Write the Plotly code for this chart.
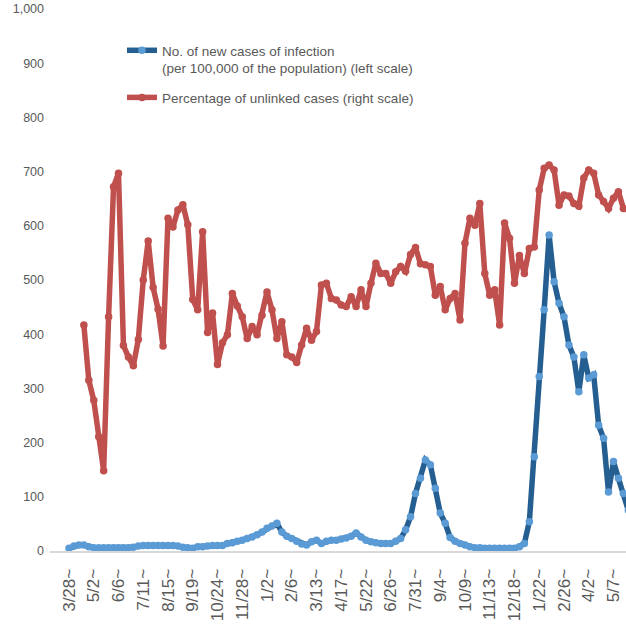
import plotly.graph_objects as go

# weekly index (0 = week of 3/28)
week_index = list(range(114))

# No. of new cases of infection (per 100,000 of the population), left scale
cases = [5, 9, 11, 11, 8, 6, 6, 6, 6, 6,
         6, 6, 6, 7, 9, 10, 10, 10, 10, 10,
         10, 10, 9, 7, 6, 5, 8, 8, 9, 10,
         10, 10, 14, 15, 18, 20, 23, 26, 30, 35,
         42, 46, 51, 35, 27, 23, 18, 13, 11, 17,
         20, 14, 18, 20, 20, 22, 24, 27, 33, 26,
         20, 17, 15, 14, 14, 14, 18, 23, 39, 63,
         106, 134, 168, 159, 116, 70, 51, 25, 18, 14,
         11, 8, 6, 6, 5, 5, 5, 5, 5, 5,
         5, 8, 14, 54, 174, 322, 445, 583, 497, 457,
         432, 380, 358, 294, 362, 319, 325, 232, 208, 109,
         165, 134, 106, 75]

# Percentage of unlinked cases (%), right scale
unlinked = [None, None, None, 41.7, 31.5, 27.8, 21.1, 14.8, 43.2, 67.2,
            69.7, 37.9, 35.8, 34.2, 39.0, 50.0, 57.2, 48.6, 44.6, 37.8,
            61.4, 59.8, 62.9, 63.9, 60.2, 46.4, 44.5, 58.9, 40.3, 43.9,
            34.4, 38.4, 39.9, 47.5, 45.2, 43.2, 39.2, 41.4, 39.9, 43.5,
            47.8, 44.5, 39.2, 42.3, 36.2, 35.8, 34.8, 38.0, 41.1, 38.9,
            40.5, 49.1, 49.4, 46.6, 46.3, 45.4, 45.1, 46.9, 45.1, 48.2,
            45.1, 49.4, 53.1, 51.2, 51.2, 49.4, 51.5, 52.5, 51.6, 54.7,
            56.0, 53.0, 52.8, 52.5, 47.2, 48.8, 44.5, 46.6, 47.5, 42.6,
            56.8, 61.4, 60.1, 64.1, 51.2, 47.2, 48.2, 41.7, 60.5, 57.7,
            49.4, 54.5, 51.2, 55.8, 56.1, 66.6, 70.6, 71.2, 70.3, 63.8,
            65.7, 65.5, 64.1, 63.6, 68.8, 70.3, 69.7, 65.7, 64.5, 63.2,
            65.1, 66.3, 63.2, 63.0]

tick_pos = list(range(0, 111, 5))
tick_text = ["3/28~", "5/2~", "6/6~", "7/11~", "8/15~", "9/19~", "10/24~",
             "11/28~", "1/2~", "2/6~", "3/13~", "4/17~", "5/22~", "6/26~",
             "7/31~", "9/4~", "10/9~", "11/13~", "12/18~", "1/22~", "2/26~",
             "4/2~", "5/7~"]

FONT = "Liberation Sans, Arial, sans-serif"
GREY = "#595959"

fig = go.Figure()
fig.add_trace(go.Scatter(
    x=week_index, y=cases, mode="lines+markers",
    name="No. of new cases of infection<br>(per 100,000 of the population) (left scale)",
    line=dict(color="#255E91", width=5.5),
    marker=dict(color="#5B9BD5", size=7.5),
    legendgroup="a"))
fig.add_trace(go.Scatter(
    x=week_index, y=unlinked, yaxis="y2", mode="lines+markers",
    name="Percentage of unlinked cases (right scale)",
    line=dict(color="#C0504D", width=5.5),
    marker=dict(color="#C0504D", size=7.5),
    legendgroup="b"))

fig.update_layout(
    width=626, height=634,
    margin=dict(l=50, r=0, t=9, b=83, pad=0),
    paper_bgcolor="white", plot_bgcolor="white",
    showlegend=True,
    legend=dict(x=0.125, y=0.952, xanchor="left", yanchor="top",
                font=dict(family=FONT, size=13.5, color=GREY),
                bgcolor="rgba(0,0,0,0)", valign="top",
                tracegroupgap=9),
    xaxis=dict(range=[-3.84, 112.53], tickmode="array", tickvals=tick_pos,
               ticktext=tick_text, tickangle=-90, showgrid=False,
               zeroline=False, showline=True, linecolor="#D9D9D9",
               linewidth=2, ticks="", ticklabelstandoff=9,
               tickfont=dict(family=FONT, size=17, color=GREY)),
    yaxis=dict(range=[0, 1000], dtick=100, tickformat=",", showgrid=False,
               zeroline=False, showline=False, ticks="", ticklabelstandoff=5,
               tickfont=dict(family=FONT, size=12.5, color=GREY)),
    yaxis2=dict(range=[0, 100], overlaying="y", side="right",
                showticklabels=False, showgrid=False, zeroline=False,
                showline=False, ticks=""),
)

fig.write_html(
    "out.html",
    config={"displayModeBar": False},
    post_script="document.body.style.margin='0';document.body.style.overflow='hidden';",
)
